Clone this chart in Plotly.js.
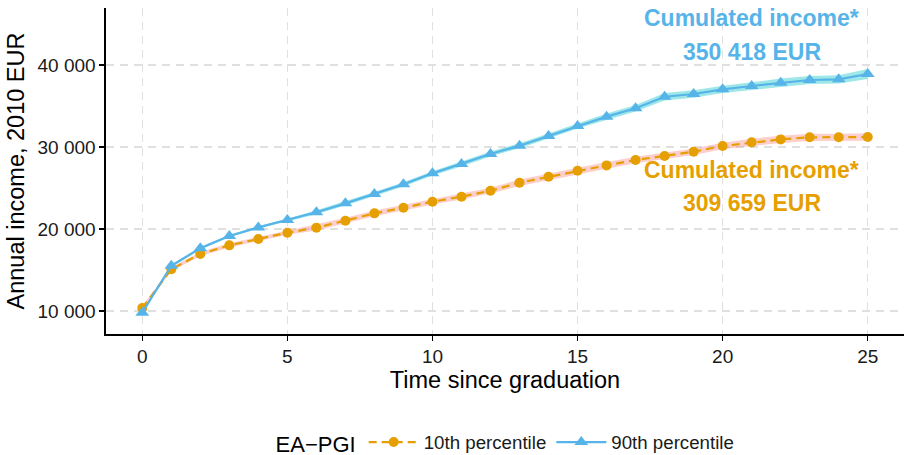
<!DOCTYPE html>
<html>
<head>
<meta charset="utf-8">
<script src="https://cdn.plot.ly/plotly-3.0.1.min.js"></script>
<style>html,body{margin:0;padding:0;background:#fff;}#chart{width:904px;height:455px;}</style>
</head>
<body>
<div id="chart"></div>
<script>
// ---- Data ----
const years = [0,1,2,3,4,5,6,7,8,9,10,11,12,13,14,15,16,17,18,19,20,21,22,23,24,25];
const p10 = [10370,15090,16950,18010,18780,19550,20160,21010,21910,22600,23330,23940,24670,25650,26380,27110,27760,28410,28900,29430,30120,30570,30930,31180,31180,31220];
const p90 = [9800,15520,17650,19150,20200,21100,22040,23130,24270,25450,26790,27930,29150,30160,31340,32560,33700,34720,36130,36460,37030,37440,37840,38170,38250,38900];
const p10Half = [250,250,250,250,250,250,350,350,350,350,350,350,350,400,400,400,400,400,400,400,400,450,450,450,450,450];
const p90Half = [150,150,150,150,150,150,250,250,250,250,250,300,300,300,300,300,400,400,450,450,450,500,500,500,500,600];
const seriesNames = ["10th percentile", "90th percentile"];
const legendTitle = "EA\u2212PGI";
const xTitle = "Time since graduation";
const yTitle = "Annual income, 2010 EUR";
const yTickVals = [10000, 20000, 30000, 40000];
const yTickText = ["10 000", "20 000", "30 000", "40 000"];
const xTickVals = [0, 5, 10, 15, 20, 25];
const label90 = ["Cumulated income*", "350 418 EUR"];
const label10 = ["Cumulated income*", "309 659 EUR"];
const label90Y = [45730, 41590];
const label10Y = [27200, 23170];
const labelX = 21;

// ---- Styles ----
const ORANGE = "#E69F00";
const BLUE = "#56B4E9";
const FONT = "Liberation Sans, Arial, sans-serif";

const lo = (v, h) => v.map((y, i) => y - h[i]);
const hi = (v, h) => v.map((y, i) => y + h[i]);

const traces = [
  {x: years, y: lo(p10, p10Half), mode: "lines", line: {width: 0}, showlegend: false, hoverinfo: "skip"},
  {x: years, y: hi(p10, p10Half), mode: "lines", line: {width: 0}, fill: "tonexty",
   fillcolor: "rgba(248,118,109,0.35)", showlegend: false, hoverinfo: "skip"},
  {x: years, y: lo(p90, p90Half), mode: "lines", line: {width: 0}, showlegend: false, hoverinfo: "skip"},
  {x: years, y: hi(p90, p90Half), mode: "lines", line: {width: 0}, fill: "tonexty",
   fillcolor: "rgba(0,191,196,0.38)", showlegend: false, hoverinfo: "skip"},
  {x: years, y: p10, name: seriesNames[0], mode: "lines+markers",
   line: {color: ORANGE, width: 2.2, dash: "8px,5px"},
   marker: {color: ORANGE, size: 10, symbol: "circle"}},
  {x: years, y: p90, name: seriesNames[1], mode: "lines+markers",
   line: {color: BLUE, width: 2.2},
   marker: {color: BLUE, size: 12, symbol: "triangle-up"}}
];

const annotations = [];
label90.forEach((t, i) => annotations.push({x: labelX, y: label90Y[i], xref: "x", yref: "y", text: t,
  showarrow: false, xanchor: "center", yanchor: "middle", font: {family: FONT, size: 23, color: BLUE, weight: "bold"}}));
label10.forEach((t, i) => annotations.push({x: labelX, y: label10Y[i], xref: "x", yref: "y", text: t,
  showarrow: false, xanchor: "center", yanchor: "middle", font: {family: FONT, size: 23, color: ORANGE, weight: "bold"}}));

const layout = {
  width: 904, height: 455,
  margin: {l: 106, r: 0, t: 8, b: 121, autoexpand: false},
  paper_bgcolor: "#fff", plot_bgcolor: "#fff",
  font: {family: FONT, color: "#1a1a1a"},
  xaxis: {
    range: [-1.25, 26.25], tickvals: xTickVals, ticks: "outside", ticklen: 5, tickwidth: 1.2, tickcolor: "#000",
    showline: true, linecolor: "#000", linewidth: 1.6, zeroline: false, automargin: true,
    showgrid: true, gridcolor: "#e0e0e0", gridwidth: 1.5, griddash: "8px,6px",
    tickfont: {size: 19, color: "#1a1a1a"},
    title: {text: xTitle, font: {size: 23.5, color: "#000"}, standoff: 5}
  },
  yaxis: {
    range: [7200, 46950], tickvals: yTickVals, ticktext: yTickText, ticks: "outside", ticklen: 5, tickwidth: 1.2, tickcolor: "#000",
    showline: true, linecolor: "#000", linewidth: 1.6, zeroline: false, automargin: true,
    showgrid: true, gridcolor: "#e0e0e0", gridwidth: 1.5, griddash: "8px,6px",
    tickfont: {size: 19, color: "#1a1a1a"},
    title: {text: yTitle, font: {size: 23.5, color: "#000"}, standoff: 6}
  },
  showlegend: true,
  legend: {
    orientation: "h", traceorder: "normal", x: 0.502, xanchor: "center", y: -0.334, yanchor: "middle",
    title: {text: legendTitle, side: "left", font: {size: 22, color: "#000"}},
    font: {size: 18.7, color: "#1a1a1a"}, bgcolor: "rgba(0,0,0,0)", itemwidth: 50
  },
  annotations: annotations
};

Plotly.newPlot("chart", traces, layout, {displayModeBar: false, staticPlot: true});
</script>
</body>
</html>
